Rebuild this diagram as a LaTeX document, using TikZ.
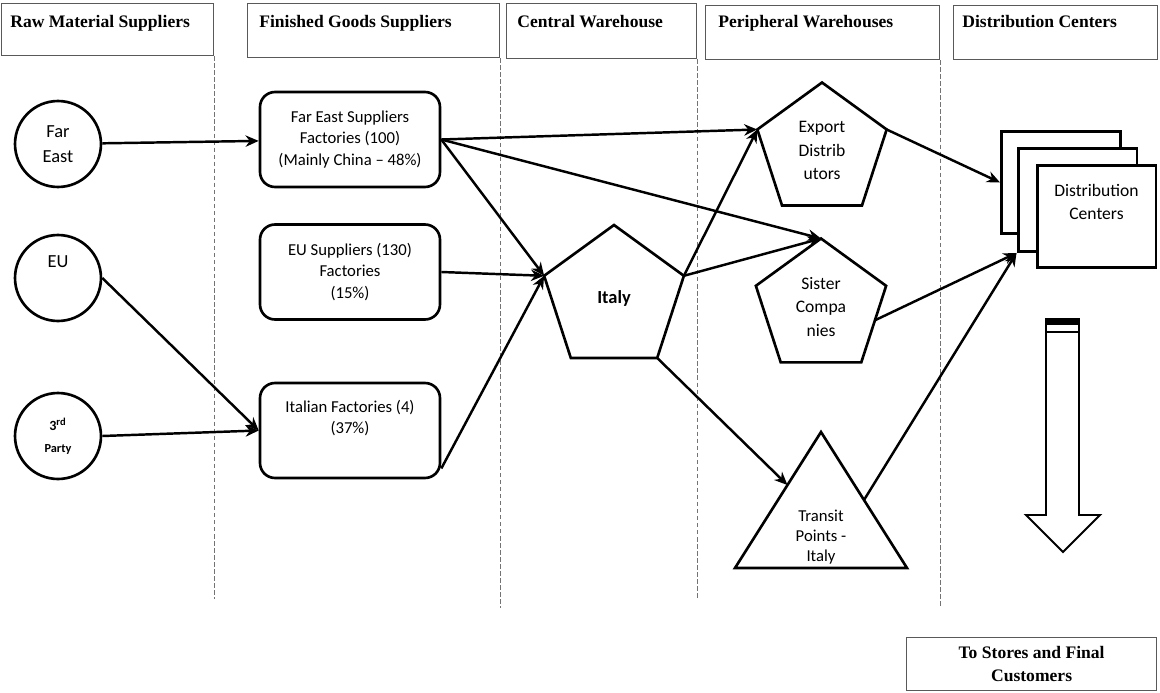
\documentclass[tikz,border=0pt]{standalone}
\usepackage{fontspec}
\setmainfont{Liberation Serif}
\newfontfamily\carlito{Carlito}
\usetikzlibrary{arrows.meta, shapes.geometric, calc}

\tikzstyle{hdrbox} = [draw=black!65, line width=0.7pt, rectangle, anchor=north west, inner sep=0pt]
\tikzstyle{hdrtext} = [anchor=base west, inner sep=0pt, font=\bfseries\fontsize{10}{13}\selectfont]
\tikzstyle{colsep} = [draw=black!55, line width=0.6pt, dash pattern=on 2.5pt off 1.5pt]
\tikzstyle{region} = [draw, circle, line width=1.5pt, minimum size=1.72cm, inner sep=0pt, align=center, font=\carlito\fontsize{10.5}{14}\selectfont]
\tikzstyle{supbox} = [draw, rectangle, rounded corners=0.3cm, line width=1.5pt, minimum width=3.6cm, minimum height=1.9cm, inner sep=0pt, align=center, font=\carlito\fontsize{9.5}{12}\selectfont]
\tikzstyle{pent} = [draw, regular polygon, regular polygon sides=5, line width=1.5pt, inner sep=0pt, outer sep=0pt, align=center, font=\carlito\fontsize{10}{13.6}\selectfont]
\tikzstyle{dcbox} = [draw, fill=white, rectangle, line width=1.7pt, minimum width=2.38cm, minimum height=2.06cm, inner sep=0pt, align=center, font=\carlito\fontsize{10}{13}\selectfont]
\tikzstyle{flow} = [-{Stealth[length=7.5pt, width=6.5pt]}, line width=1.4pt]

\begin{document}
\begin{tikzpicture}[x=0.02cm, y=-0.02cm]
  \useasboundingbox (0,0) rectangle (1160,693);

  % column headers
  \node[hdrbox, minimum width=4.24cm, minimum height=1.04cm] (rawHdr) at (1,3) {};
  \node[hdrbox, minimum width=5.04cm, minimum height=1.08cm] (finHdr) at (247,3) {};
  \node[hdrbox, minimum width=3.8cm, minimum height=1.1cm] (cenHdr) at (506,3) {};
  \node[hdrbox, minimum width=4.68cm, minimum height=1.08cm] (perHdr) at (705,5) {};
  \node[hdrbox, minimum width=4.08cm, minimum height=1.08cm] (disHdr) at (953,5) {};
  \node[hdrtext] (rawTxt) at ($(rawHdr.north west)+(9,25)$) {Raw Material Suppliers};
  \node[hdrtext] (finTxt) at ($(finHdr.north west)+(12,25)$) {Finished Goods Suppliers};
  \node[hdrtext] (cenTxt) at ($(cenHdr.north west)+(11,25)$) {Central Warehouse};
  \node[hdrtext] (perTxt) at ($(perHdr.north west)+(13,23)$) {Peripheral Warehouses};
  \node[hdrtext] (disTxt) at ($(disHdr.north west)+(9,23)$) {Distribution Centers};
  \draw[colsep] (rawHdr.south east) -- ++(0,543);
  \draw[colsep] (finHdr.south east) -- ++(0,550);
  \draw[colsep] (cenHdr.south east) -- ++(0,540);
  \draw[colsep] (perHdr.south east) -- ++(0,546);

  % raw material sources
  \node[region] (farEast) at (58,144) {Far\\East};
  \node[region] (eu) at (58,278) {EU\\ \strut};
  \node[region, font=\carlito\bfseries\fontsize{7}{12.5}\selectfont] (third) at (58,436) {{\fontsize{8}{10}\selectfont 3\textsuperscript{rd}}\\Party};

  % finished goods suppliers
  \node[supbox] (feSup) at (350,139.5) {Far East Suppliers\\Factories (100)\\(Mainly China – 48\%)};
  \node[supbox] (euSup) at (350,272) {EU Suppliers (130)\\Factories\\(15\%)};
  \node[supbox] (itFac) at (350,430.5) {Italian Factories (4)\\(37\%)\\ \strut};

  % warehouses
  \node[pent, minimum size=2.94cm, font=\carlito\bfseries\fontsize{10.5}{13}\selectfont] (italy) at (614,298.5) {Italy};
  \node[pent, minimum size=2.72cm] (export) at (822,150.5) {Export\\Distrib\\utors};
  \node[pent, minimum size=2.74cm] (sister) at (821,307) {Sister\\Compa\\nies};
  \coordinate (tTop) at (821,432);
  \coordinate (tLeft) at (735,568);
  \coordinate (tRight) at (907,568);
  \draw[line width=1.5pt] (tTop) -- (tLeft) -- (tRight) -- cycle;
  \node[align=center, inner sep=0pt, font=\carlito\fontsize{9.5}{11.3}\selectfont] (transit) at (821,537) {Transit\\Points -\\Italy};

  % distribution centers
  \node[dcbox] (dcBack) at (1061,182.5) {};
  \node[dcbox] (dcMid) at (1077.5,200) {};
  \node[dcbox] (dcFront) at (1096.5,216.5) {Distribution\\Centers\\ \strut};

  % block arrow to customers
  \fill (1046,318) rectangle (1079,325);
  \draw[line width=1.1pt] (1046,332) -- (1079,332);
  \draw[line width=1.1pt] (1046,318) -- (1046,515) -- (1026,515) -- (1063,552) -- (1100,515) -- (1079,515) -- (1079,318);
  \node[hdrbox, minimum width=5.0cm, minimum height=1.06cm] (custBox) at (906,637) {};
  \node[align=center, inner sep=0pt, font=\bfseries\fontsize{10}{13}\selectfont] (custTxt) at (custBox.center) {To Stores and Final\\Customers};

  % flows
  \draw[flow] (farEast) -- (feSup);
  \draw[flow] (eu.east) -- (itFac.west);
  \draw[flow] (third.east) -- (itFac.west);
  \draw[flow] (feSup.east) -- (italy.corner 2);
  \draw[flow] (euSup.east) -- (italy.corner 2);
  \draw[flow] ($(itFac.east)+(0,38)$) -- (italy.corner 2);
  \draw[flow] (feSup.east) -- (export.corner 2);
  \draw[flow] (feSup.east) -- (sister.corner 1);
  \draw[flow] (italy.corner 5) -- (export.corner 2);
  \draw[flow] (italy.corner 5) -- (sister.corner 1);
  \draw[flow] (italy.corner 4) -- ($(tTop)!0.39!(tLeft)$);
  \draw[flow] (export.corner 5) -- (dcBack.west);
  \draw[flow] ($(sister.corner 5)!0.45!(sister.corner 4)$) -- (dcMid.south west);
  \draw[flow] ($(tTop)!0.5!(tRight)$) -- (dcMid.south west);
\end{tikzpicture}
\end{document}
